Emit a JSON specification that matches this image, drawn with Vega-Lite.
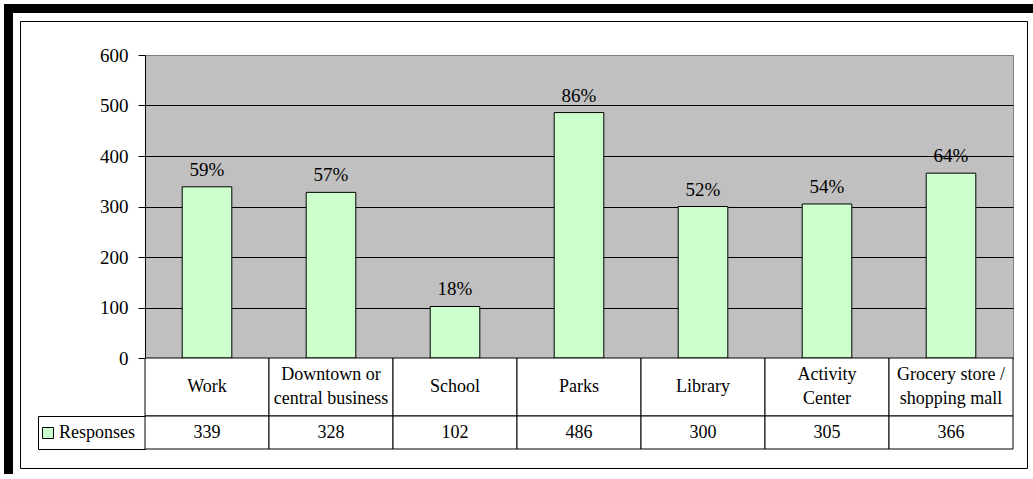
{
  "$schema": "https://vega.github.io/schema/vega-lite/v6.json",
  "background": "white",
  "padding": {"left": 4, "top": 4, "right": 0, "bottom": 0},
  "config": {"font": "Liberation Serif", "view": {"stroke": null}},
  "datasets": {
    "responses": [
      {"category": "Work", "value": 339, "pct": 0.59, "series": "Responses"},
      {"category": "Downtown or\ncentral business", "value": 328, "pct": 0.57, "series": "Responses"},
      {"category": "School", "value": 102, "pct": 0.18, "series": "Responses"},
      {"category": "Parks", "value": 486, "pct": 0.86, "series": "Responses"},
      {"category": "Library", "value": 300, "pct": 0.52, "series": "Responses"},
      {"category": "Activity\nCenter", "value": 305, "pct": 0.54, "series": "Responses"},
      {"category": "Grocery store /\nshopping mall", "value": 366, "pct": 0.64, "series": "Responses"}
    ],
    "none": []
  },
  "spacing": 0,
  "bounds": "flush",
  "vconcat": [
    {"width": 1029, "height": 9, "data": {"name": "none"}, "mark": {"type": "text"}, "encoding": {"text": {"value": ""}}, "view": {"fill": "black"}},
    {
      "spacing": 0,
      "bounds": "flush",
      "hconcat": [
        {"width": 9, "height": 461, "data": {"name": "none"}, "mark": {"type": "text"}, "encoding": {"text": {"value": ""}}, "view": {"fill": "black"}},
        {"width": 7, "height": 1, "data": {"name": "none"}, "mark": {"type": "text"}, "encoding": {"text": {"value": ""}}},
        {
          "spacing": 0,
          "bounds": "flush",
          "vconcat": [
            {"width": 1, "height": 8, "data": {"name": "none"}, "mark": {"type": "text"}, "encoding": {"text": {"value": ""}}},
            {
              "spacing": 0,
              "bounds": "flush",
              "hconcat": [
                {
                  "spacing": 0,
                  "bounds": "flush",
                  "hconcat": [
                    {"width": 18, "height": 1, "data": {"name": "none"}, "mark": {"type": "text"}, "encoding": {"text": {"value": ""}}},
                    {
                      "spacing": 0,
                      "bounds": "flush",
                      "vconcat": [
                        {"width": 1, "height": 34, "data": {"name": "none"}, "mark": {"type": "text"}, "encoding": {"text": {"value": ""}}},
                        {
                          "columns": 2,
                          "spacing": 0,
                          "bounds": "flush",
                          "align": "each",
                          "resolve": {"scale": {"x": "independent", "y": "independent", "color": "independent"}},
                          "concat": [
                            {"width": 107, "height": 303, "data": {"name": "none"}, "mark": {"type": "text"}, "encoding": {"text": {"value": ""}}},
                            {
                              "width": 868,
                              "height": 303,
                              "data": {"name": "responses"},
                              "view": {"fill": "#C0C0C0", "stroke": "#808080", "strokeWidth": 1},
                              "encoding": {
                                "x": {"field": "category", "type": "nominal", "sort": null,
                                  "scale": {"paddingInner": 0.6, "paddingOuter": 0.3},
                                  "axis": {"labels": false, "ticks": false, "title": null, "domainColor": "black", "grid": false}},
                                "y": {"field": "value", "type": "quantitative",
                                  "scale": {"domain": [0, 600], "nice": false},
                                  "axis": {"title": null, "values": [0, 100, 200, 300, 400, 500, 600], "tickSize": 7, "labelPadding": 10,
                                    "labelFont": "Liberation Serif", "labelFontSize": 19, "labelColor": "black", "domainColor": "black", "tickColor": "black",
                                    "grid": true, "gridColor": {"condition": {"test": "datum.value === 600", "value": "#808080"}, "value": "black"}, "gridOpacity": 1}}
                              },
                              "layer": [
                                {
                                  "mark": {"type": "bar", "stroke": "black", "strokeWidth": 1},
                                  "encoding": {
                                    "color": {"field": "series", "type": "nominal",
                                      "scale": {"range": ["#CCFFCC"]},
                                      "legend": {"orient": "none", "legendX": -106, "legendY": 369, "title": null, "padding": 0,
                                        "symbolType": "square", "symbolSize": 121, "symbolStrokeColor": "black", "symbolStrokeWidth": 1,
                                        "symbolFillColor": "#CCFFCC", "symbolOpacity": 1, "labelFont": "Liberation Serif", "labelFontSize": 18, "labelColor": "black", "labelOffset": 2}}
                                  }
                                },
                                {
                                  "mark": {"type": "text", "font": "Liberation Serif", "baseline": "alphabetic", "dy": -11, "fontSize": 19, "color": "black"},
                                  "encoding": {"text": {"field": "pct", "type": "quantitative", "format": ".0%"}}
                                }
                              ]
                            },
                            {"width": 107, "height": 58, "data": {"name": "none"}, "mark": {"type": "text"}, "encoding": {"text": {"value": ""}}},
                            {
                              "width": 868,
                              "height": 58,
                              "data": {"name": "responses"},
                              "encoding": {
                                "x": {"field": "category", "type": "nominal", "sort": null, "scale": {"paddingInner": 0, "paddingOuter": 0}, "axis": null}
                              },
                              "layer": [
                                {"mark": {"type": "rect", "fill": "white", "stroke": "black", "strokeWidth": 1}},
                                {"transform": [{"filter": "indexof(datum.category, '\\n') < 0"}],
                                  "mark": {"type": "text", "font": "Liberation Serif", "fontSize": 18, "color": "black", "baseline": "middle"},
                                  "encoding": {"text": {"field": "category"}}},
                                {"transform": [{"filter": "indexof(datum.category, '\\n') >= 0"}],
                                  "mark": {"type": "text", "font": "Liberation Serif", "fontSize": 18, "color": "black", "lineBreak": "\n", "lineHeight": 24, "baseline": "middle", "dy": -12},
                                  "encoding": {"text": {"field": "category"}}}
                              ]
                            },
                            {"width": 107, "height": 33, "data": {"name": "none"}, "mark": {"type": "text"}, "encoding": {"text": {"value": ""}}, "view": {"fill": null, "stroke": "black", "strokeWidth": 1}},
                            {
                              "width": 868,
                              "height": 33,
                              "data": {"name": "responses"},
                              "encoding": {
                                "x": {"field": "category", "type": "nominal", "sort": null, "scale": {"paddingInner": 0, "paddingOuter": 0}, "axis": null}
                              },
                              "layer": [
                                {"mark": {"type": "rect", "fill": "white", "stroke": "black", "strokeWidth": 1}},
                                {"mark": {"type": "text", "font": "Liberation Serif", "fontSize": 18, "color": "black", "baseline": "middle"},
                                  "encoding": {"text": {"field": "value", "type": "quantitative"}}}
                              ]
                            }
                          ]
                        }
                      ]
                    }
                  ]
                },
                {"width": 1007, "height": 447, "data": {"name": "none"}, "mark": {"type": "text"}, "encoding": {"text": {"value": ""}}, "view": {"fill": null, "stroke": "black", "strokeWidth": 1}}
              ]
            }
          ]
        }
      ]
    }
  ]
}
